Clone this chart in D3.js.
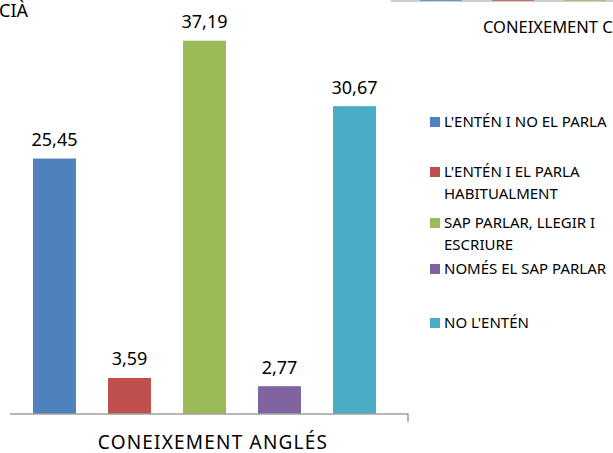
<!DOCTYPE html>
<html lang="ca">
	<head>
		<meta charset="UTF-8" />
		<title>Coneixement anglès</title>
		<style>
			html,
			body {
				margin: 0;
				padding: 0;
				width: 100%;
				height: 100%;
				overflow: hidden;
				background-color: #ffffff;
			}

			#chart {
				position: absolute;
				top: 0;
				left: 0;
				font-family: 'Noto Sans', sans-serif;
			}
		</style>
	</head>
	<body>
		<svg id="chart"></svg>

		<script src="https://d3js.org/d3.v7.min.js"></script>

		<script>
			// data
			const categories = [
				"L'ENTÉN I NO EL PARLA",
				"L'ENTÉN I EL PARLA HABITUALMENT",
				'SAP PARLAR, LLEGIR I ESCRIURE',
				'NOMÉS EL SAP PARLAR',
				"NO L'ENTÉN"
			];
			const values = [25.45, 3.59, 37.19, 2.77, 30.67];
			const colors = ['#4f81bd', '#c0504d', '#9bbb59', '#8064a2', '#4bacc6'];
			const axisTitle = 'CONEIXEMENT ANGLÉS';

			// bits of the neighbouring charts that are cut off by the frame
			const leftTitle = 'CIÀ';
			const rightTitle = 'CONEIXEMENT CATALÀ';
			const upperCategories = categories.slice(0, 3);

			const width = 613;
			const height = 453;
			const baseY = 414;

			const svg = d3.select('#chart').attr('width', width).attr('height', height);

			const x = d3
				.scaleBand()
				.domain(categories)
				.range([17, 392])
				.paddingInner(0.427)
				.paddingOuter(0.2135);

			const y = d3.scaleLinear().domain([0, 37.19]).range([baseY, 40.7]);

			const fmt = d3.formatLocale({
				decimal: ',',
				thousands: '.',
				grouping: [3],
				currency: ['', '€']
			}).format('.2f');

			// bars
			svg.append('g')
				.selectAll('rect')
				.data(values)
				.join('rect')
				.attr('x', (d, i) => x(categories[i]))
				.attr('y', (d) => y(d))
				.attr('width', x.bandwidth())
				.attr('height', (d) => baseY - y(d))
				.attr('fill', (d, i) => colors[i]);

			// value labels
			svg.append('g')
				.selectAll('text')
				.data(values)
				.join('text')
				.attr('x', (d, i) => x(categories[i]) + x.bandwidth() / 2)
				.attr('y', (d) => y(d) - 12.5)
				.attr('text-anchor', 'middle')
				.attr('font-size', 18)
				.attr('fill', '#000')
				.text((d) => fmt(d));

			// category axis: a bare line with one tick at the right end
			svg.append('path')
				.attr('d', `M10,${baseY}H408V${baseY + 8}`)
				.attr('fill', 'none')
				.attr('stroke', '#a0a0a0')
				.attr('stroke-width', 1.5);

			svg.append('text')
				.attr('x', 213)
				.attr('y', 449)
				.attr('text-anchor', 'middle')
				.attr('font-size', 19)
				.attr('letter-spacing', 1.2)
				.attr('fill', '#000')
				.text(axisTitle);

			// legend
			const legendX = 430;
			const legendBaselines = [127, 177, 228, 274, 328];
			const lineGap = 21.5;

			const legend = svg
				.append('g')
				.selectAll('g')
				.data(categories)
				.join('g')
				.attr('transform', (d, i) => `translate(${legendX},${legendBaselines[i]})`);

			legend
				.append('rect')
				.attr('x', 0)
				.attr('y', -10)
				.attr('width', 10)
				.attr('height', 10)
				.attr('fill', (d, i) => colors[i]);

			legend
				.append('text')
				.attr('x', 14)
				.attr('y', 0)
				.attr('font-size', 15)
				.attr('fill', '#000')
				.each(function (d) {
					const t = d3.select(this);
					const words = d.split(' ');
					let line = [];
					let tspan = t.append('tspan').attr('x', 14).attr('dy', 0);
					words.forEach((w) => {
						line.push(w);
						tspan.text(line.join(' '));
						if (tspan.node().getComputedTextLength() > 172 && line.length > 1) {
							line.pop();
							tspan.text(line.join(' '));
							line = [w];
							tspan = t.append('tspan').attr('x', 14).attr('dy', lineGap).text(w);
						}
					});
				});

			// cut-off titles of the neighbouring charts
			svg.append('text')
				.attr('x', -1)
				.attr('y', 17)
				.attr('font-size', 18)
				.attr('fill', '#000')
				.text(leftTitle);

			svg.append('text')
				.attr('x', 483)
				.attr('y', 33)
				.attr('font-size', 16.5)
				.attr('fill', '#000')
				.text(rightTitle);

			// bottom edge of the chart above on the right
			const xUp = d3
				.scaleBand()
				.domain(upperCategories)
				.range([420 - 15, 420 - 15 + 72 * 3])
				.paddingInner(0.42)
				.paddingOuter(0.21);

			svg.append('line')
				.attr('x1', 391)
				.attr('x2', width)
				.attr('y1', 1)
				.attr('y2', 1)
				.attr('stroke', '#bdbdbd')
				.attr('stroke-width', 1.5);

			svg.append('g')
				.selectAll('rect')
				.data(upperCategories)
				.join('rect')
				.attr('x', (d) => xUp(d))
				.attr('y', -5)
				.attr('width', xUp.bandwidth())
				.attr('height', 6)
				.attr('fill', (d, i) => colors[i])
				.attr('opacity', 0.75);
		</script>
	</body>
</html>
